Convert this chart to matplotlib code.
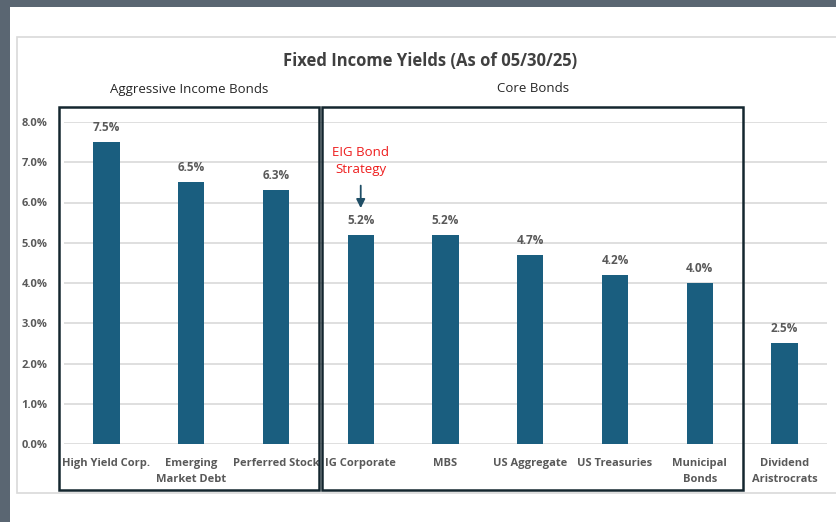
import matplotlib
matplotlib.use("Agg")
import matplotlib.pyplot as plt
from matplotlib.patches import Rectangle
from matplotlib.ticker import FuncFormatter

categories = ["High Yield Corp.", "Emerging\nMarket Debt", "Perferred Stock", "IG Corporate",
              "MBS", "US Aggregate", "US Treasuries", "Municipal\nBonds", "Dividend\nAristrocrats"]
yields = [7.5, 6.5, 6.3, 5.2, 5.2, 4.7, 4.2, 4.0, 2.5]
yticks = [0, 1, 2, 3, 4, 5, 6, 7, 8]

W, H = 836, 522
BAR = "#1a5e7f"
TXT = "#595959"
plt.rcParams["font.family"] = ["Open Sans", "DejaVu Sans"]

fig = plt.figure(figsize=(W / 100, H / 100), dpi=100)
fig.patch.set_facecolor("#5a6672")


def px(x, y):
    # figure pixel coords (from top-left) -> figure fraction
    return x / W, 1 - y / H


def box(x0, y0, x1, y1, **kw):
    fx0, fy1 = px(x0, y0)
    fx1, fy0 = px(x1, y1)
    fig.add_artist(Rectangle((fx0, fy0), fx1 - fx0, fy1 - fy0, transform=fig.transFigure, **kw))


# white page and light chart frame
box(10, 7, W + 5, H + 5, facecolor="white", edgecolor="none", zorder=0)
box(17, 37, W + 5, 493, facecolor="white", edgecolor="#d9d9d9", lw=1.2, zorder=0.5)

ax = fig.add_axes([64 / W, 78 / H, (827 - 64) / W, (444 - 122) / H])
ax.set_zorder(1)
ax.set_facecolor("none")
x = range(len(categories))
ax.bar(x, yields, width=0.31, color=BAR, zorder=3)
ax.set_xlim(-0.5, len(categories) - 0.5)
ax.set_ylim(0, 8)
ax.set_yticks(yticks)
ax.yaxis.set_major_formatter(FuncFormatter(lambda v, p: f"{v:.1f}%"))
ax.set_xticks(list(x))
ax.set_xticklabels(categories, fontsize=8, fontweight="bold", color=TXT, linespacing=1.6)
for lab in ax.get_yticklabels():
    lab.set_fontsize(8)
    lab.set_fontweight("bold")
    lab.set_color(TXT)
ax.tick_params(length=0, pad=12, axis="y")
ax.tick_params(length=0, pad=10, axis="x")
ax.grid(axis="y", color="#d9d9d9", lw=1.2, zorder=0)
for s in ax.spines.values():
    s.set_visible(False)

for i, v in enumerate(yields):
    ax.text(i, v + 0.2, f"{v:.1f}%", ha="center", va="bottom", fontsize=8.5,
            fontweight="bold", color=TXT)

# group boxes
box(59, 107, 319, 490, facecolor="none", edgecolor="#14262f", lw=1.8, zorder=5)
box(322, 107, 743, 490, facecolor="none", edgecolor="#14262f", lw=1.8, zorder=5)

fig.text(*px(430, 61), "Fixed Income Yields (As of 05/30/25)", ha="center", va="center",
         fontsize=12, fontweight="bold", color="#404040")
fig.text(*px(189, 90), "Aggressive Income Bonds", ha="center", va="center", fontsize=9.5, color="#262626")
fig.text(*px(533, 88), "Core Bonds", ha="center", va="center", fontsize=9.5, color="#262626")

# callout for IG Corporate
ax.annotate("", xy=(3, 5.86), xytext=(3, 6.42),
            arrowprops=dict(arrowstyle="-|>", color="#1f4e66", lw=1.3, mutation_scale=13,
                            shrinkA=0, shrinkB=0))
ax.text(3, 7.03, "EIG Bond\nStrategy", ha="center", va="center", fontsize=9.5,
        color="#ee1c1c", linespacing=1.45)

fig.savefig("out.png", dpi=100)
